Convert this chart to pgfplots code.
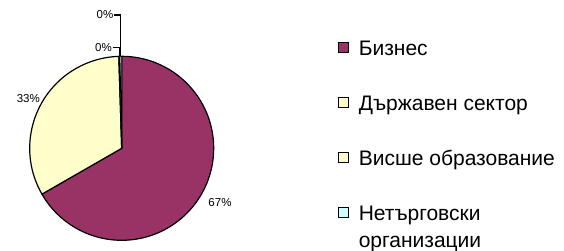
\documentclass[border=0pt]{standalone}
\usepackage{fontspec}
\setmainfont{Liberation Sans}
\usepackage{pgfplots}
\usepackage{pgfplotstable}
\pgfplotsset{compat=1.18}
\definecolor{biz}{HTML}{993366}
\definecolor{gov}{HTML}{FFFFCC}
\definecolor{edu}{HTML}{FFFFCC}
\definecolor{npo}{HTML}{CCFFFF}

\pgfplotstableread{
value
66.7
32.8
0.2
0.3
}\piedata

\begin{document}
\begin{tikzpicture}
\pgfplotstablegetelem{0}{value}\of\piedata \let\vA\pgfplotsretval
\pgfplotstablegetelem{1}{value}\of\piedata \let\vB\pgfplotsretval
\pgfplotstablegetelem{2}{value}\of\piedata \let\vC\pgfplotsretval
\pgfplotstablegetelem{3}{value}\of\piedata \let\vD\pgfplotsretval
\pgfmathsetmacro\aA{90}
\pgfmathsetmacro\aB{\aA-3.6*\vA}
\pgfmathsetmacro\aC{\aB-3.6*\vB}
\pgfmathsetmacro\aD{\aC-3.6*\vC}
\pgfmathsetmacro\aE{\aD-3.6*\vD}
\begin{axis}[
  width=564pt, height=251pt, scale only axis,
  xmin=0, xmax=564, ymin=0, ymax=251,
  hide axis, clip=false,
  legend image code/.code={\draw[#1, line width=1.2pt] (0pt,-2.75pt) rectangle (10pt,7.25pt);},
  legend cell align=left,
  legend style={at={(axis cs:337.4,211)}, anchor=north west, draw=none, fill=none,
    inner sep=0pt, font=\fontsize{21}{27}\selectfont,
    row sep=35.5pt, column sep=0pt,
    nodes={inner sep=0pt, text height=15pt, text depth=4.5pt, anchor=west},
    /tikz/every odd column/.style={column sep=10pt}},
]
\addlegendimage{fill=biz, draw=black}
\addlegendentry{Бизнес}
\addlegendimage{fill=gov, draw=black}
\addlegendentry{Държавен сектор}
\addlegendimage{fill=edu, draw=black}
\addlegendentry{Висше образование}
\addlegendimage{fill=npo, draw=black}
\addlegendentry{\smash{\begin{tabular}[t]{@{}l@{}}Нетърговски\\организации\end{tabular}}}

\filldraw[fill=biz, draw=black, line width=1.2pt, line join=round]
  (axis cs:121.7,102.7) -- ++(\aA:92pt) arc[start angle=\aA, end angle=\aB, radius=92pt] -- cycle;
\filldraw[fill=gov, draw=black, line width=1.2pt, line join=round]
  (axis cs:121.7,102.7) -- ++(\aB:92pt) arc[start angle=\aB, end angle=\aC, radius=92pt] -- cycle;
\filldraw[fill=edu, draw=black, line width=1.2pt, line join=round]
  (axis cs:121.7,102.7) -- ++(\aC:92pt) arc[start angle=\aC, end angle=\aD, radius=92pt] -- cycle;
\filldraw[fill=npo, draw=black, line width=0.8pt, line join=round]
  (axis cs:121.7,102.7) -- ++(\aD:92pt) arc[start angle=\aD, end angle=\aE, radius=92pt] -- cycle;

\draw[line width=1.1pt] (axis cs:114,236) -| (axis cs:120.6,195);
\draw[line width=1.1pt] (axis cs:113,203.3) -| (axis cs:119.3,195);

\node[font=\fontsize{11.5}{13}\selectfont] at (axis cs:220,48) {67\%};
\node[font=\fontsize{11.5}{13}\selectfont] at (axis cs:28.3,152) {33\%};
\node[font=\fontsize{11.5}{13}\selectfont] at (axis cs:105,236) {0\%};
\node[font=\fontsize{11.5}{13}\selectfont] at (axis cs:103.5,203.3) {0\%};
\end{axis}
\pgfresetboundingbox
\path[use as bounding box] (0,0) rectangle (564pt,251pt);
\end{tikzpicture}
\end{document}
